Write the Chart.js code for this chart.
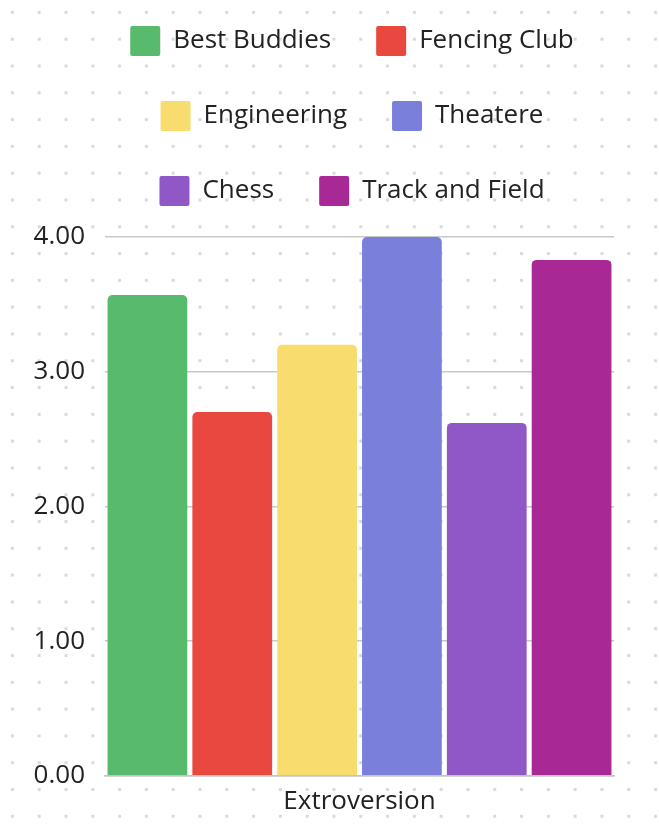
<!DOCTYPE html>
<html>
<head>
<meta charset="utf-8">
<script src="https://cdn.jsdelivr.net/npm/chart.js@4/dist/chart.umd.min.js"></script>
<style>
  html, body {
    margin: 0;
    padding: 0;
    background-color: #ffffff;
    background-image: radial-gradient(circle, #d9d9e3 1.6px, rgba(255,255,255,0) 2px);
    background-size: 26.8px 26.8px;
    background-position: -1px -1px;
  }
  #myChart { display: block; }
</style>
</head>
<body>
<canvas id="myChart" width="659" height="824"></canvas>
<script>
// club scores for one trait
var categories = ["Extroversion"];
var clubs = ["Best Buddies", "Fencing Club", "Engineering", "Theatere", "Chess", "Track and Field"];
var scores = [3.57, 2.70, 3.20, 4.00, 2.62, 3.83];
var clubColors = ["#58bb6b", "#e8483d", "#f8dc6d", "#7b7fdc", "#9058c6", "#a82895"];
var yTicks = [0, 1, 2, 3, 4];

var chartDatasets = [];
for (var i = 0; i < clubs.length; i++) {
  chartDatasets.push({
    label: clubs[i],
    data: [scores[i]],
    backgroundColor: clubColors[i],
    borderWidth: 0,
    borderRadius: 5,
    categoryPercentage: 1.0,
    barPercentage: 0.94
  });
}

// nudge the legend block so it sits centred over the bars
var legendShift = {
  id: "legendShift",
  afterLayout: function(chart) {
    var lg = chart.legend;
    lg.left += 30;
    lg.right += 30;
    lg.top -= 21;
    lg.bottom -= 21;
  }
};

var ctx = document.getElementById("myChart").getContext("2d");
var myChart = new Chart(ctx, {
  type: "bar",
  data: {
    labels: categories,
    datasets: chartDatasets
  },
  plugins: [legendShift],
  options: {
    responsive: false,
    animation: false,
    layout: { padding: { left: 30, right: 45, top: 2, bottom: -3 } },
    plugins: {
      tooltip: { enabled: false },
      legend: {
        position: "top",
        labels: {
          boxWidth: 30,
          boxHeight: 30,
          padding: 45,
          useBorderRadius: true,
          borderRadius: 2,
          color: "#222222",
          font: { family: "'Open Sans', sans-serif", size: 26 }
        }
      }
    },
    scales: {
      x: {
        grid: { display: false, drawTicks: false },
        border: { display: true, color: "#c4c4c4", width: 1.5 },
        ticks: {
          color: "#222222",
          padding: 10,
          font: { family: "'Open Sans', sans-serif", size: 26 }
        }
      },
      y: {
        min: 0,
        max: 4,
        afterFit: function(scale) { scale.width = 75; },
        afterBuildTicks: function(scale) {
          scale.ticks = yTicks.map(function(v) { return { value: v }; });
        },
        grid: { color: "#c8c8c8", lineWidth: 1.5, drawTicks: false },
        border: { display: false },
        ticks: {
          color: "#222222",
          padding: 20,
          font: { family: "'Open Sans', sans-serif", size: 26 },
          callback: function(v) { return Number(v).toFixed(2); }
        }
      }
    }
  }
});
</script>
</body>
</html>
